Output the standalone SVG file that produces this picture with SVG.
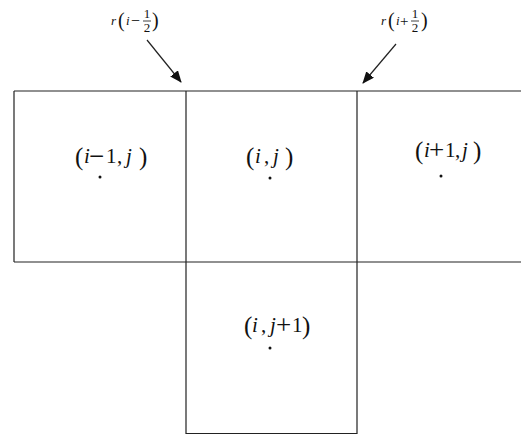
<svg xmlns="http://www.w3.org/2000/svg" width="521" height="435" viewBox="0 0 521 435">
<style>
.g{stroke:#222;stroke-width:1.2;fill:none}
.t{font-family:"Liberation Serif",serif;font-size:21px;fill:#111}
.s{font-family:"Liberation Serif",serif;font-size:13px;fill:#111}
.i{font-style:italic}
.p{font-size:25px}
.m{font-size:27px}
.sp{font-size:20px}
.d{fill:#111}
.a{stroke:#222;stroke-width:1.2;marker-end:url(#ah)}
</style>
<defs>
<marker id="ah" markerWidth="12" markerHeight="10" refX="11" refY="5" orient="auto" markerUnits="userSpaceOnUse">
<path d="M0,0 L12,5 L0,10 Z" fill="#111"/>
</marker>
</defs>
<g id="grid">
<path class="g" d="M14,91 H521 M14,262 H521 M14,91 V262 M186,91 V434 M357,91 V434 M186,433.5 H357"/>
</g>
<g id="connectors">
<line class="a" x1="147" y1="40" x2="181" y2="82"/>
<line class="a" x1="396" y1="44" x2="363" y2="83"/>
</g>
<g id="label-left">
<text class="s" y="25"><tspan class="i" x="111">r</tspan><tspan class="sp" x="118" y="27">(</tspan><tspan class="i" x="126" y="25">i</tspan><tspan x="131" font-size="16" y="26">−</tspan></text>
<text class="s" x="147" y="18" text-anchor="middle">1</text>
<line x1="143" y1="21" x2="151" y2="21" stroke="#111" stroke-width="0.8"/>
<text class="s" x="147" y="32" text-anchor="middle">2</text>
<text class="s sp" x="152" y="27">)</text>
</g>
<g id="label-right">
<text class="s" y="25"><tspan class="i" x="381">r</tspan><tspan class="sp" x="388" y="27">(</tspan><tspan class="i" x="396" y="25">i</tspan><tspan x="400" font-size="15" y="26">+</tspan></text>
<text class="s" x="415" y="18" text-anchor="middle">1</text>
<line x1="411" y1="21" x2="419" y2="21" stroke="#111" stroke-width="0.8"/>
<text class="s" x="415" y="32" text-anchor="middle">2</text>
<text class="s sp" x="421" y="27">)</text>
</g>
<g id="cell-im1j">
<text class="t" y="163"><tspan class="p" x="75" y="165">(</tspan><tspan class="i" x="84" y="163">i</tspan><tspan class="m" x="89" y="165">−</tspan><tspan x="106" y="163">1</tspan><tspan x="117">,</tspan><tspan class="i" x="126">j</tspan><tspan class="p" x="139" y="165">)</tspan></text>
<circle class="d" cx="100" cy="177" r="1.5"/>
</g>
<g id="cell-ij">
<text class="t" y="163"><tspan class="p" x="246" y="165">(</tspan><tspan class="i" x="255" y="163">i</tspan><tspan x="264">,</tspan><tspan class="i" x="273">j</tspan><tspan class="p" x="285" y="165">)</tspan></text>
<circle class="d" cx="270" cy="178" r="1.5"/>
</g>
<g id="cell-ip1j">
<text class="t" y="157"><tspan class="p" x="415" y="159">(</tspan><tspan class="i" x="424" y="157">i</tspan><tspan class="m" x="429" y="159">+</tspan><tspan x="445" y="157">1</tspan><tspan x="455">,</tspan><tspan class="i" x="462">j</tspan><tspan class="p" x="473" y="159">)</tspan></text>
<circle class="d" cx="441" cy="176" r="1.5"/>
</g>
<g id="cell-ijp1">
<text class="t" y="332"><tspan class="p" x="244" y="334">(</tspan><tspan class="i" x="252" y="332">i</tspan><tspan x="261">,</tspan><tspan class="i" x="270">j</tspan><tspan class="m" x="276" y="334">+</tspan><tspan x="292" y="332">1</tspan><tspan class="p" x="302" y="334">)</tspan></text>
<circle class="d" cx="270" cy="348" r="1.5"/>
</g>
</svg>
